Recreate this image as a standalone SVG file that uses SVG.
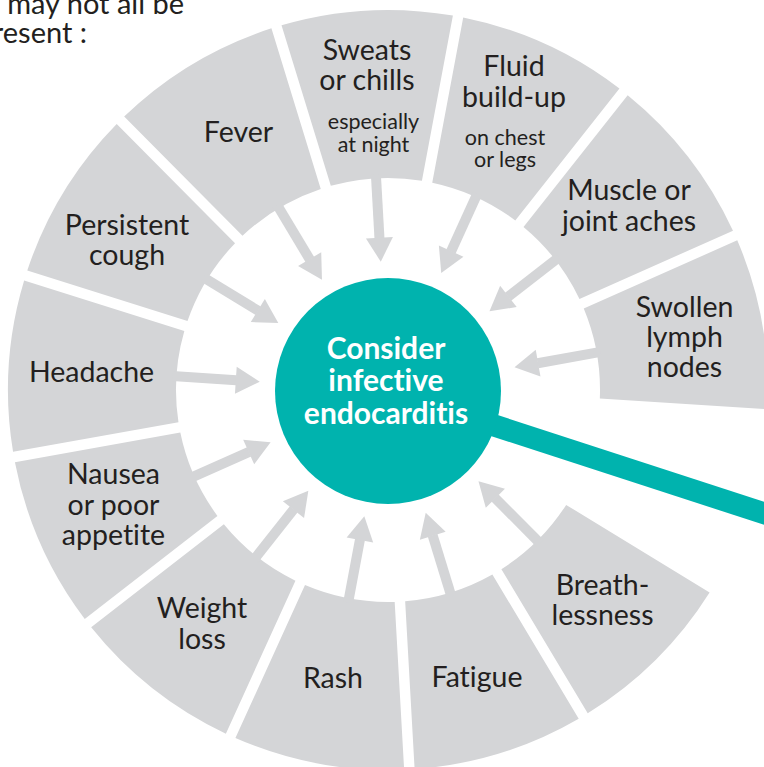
<svg xmlns="http://www.w3.org/2000/svg" xmlns:xlink="http://www.w3.org/1999/xlink" width="764" height="767" viewBox="0 0 764 767">
<style>
text{font-family:Lato,"Open Sans","Liberation Sans",sans-serif;font-variant-ligatures:none;fill:#231F20}
.seg{fill:#D4D5D7}
.lbl{font-size:28.5px;text-anchor:middle}
.sm{font-size:21.5px;text-anchor:middle}
.top{font-size:29px;text-anchor:end}
.ctr{font-size:30px;font-weight:bold;fill:#FFFFFF;text-anchor:middle}
.arr{stroke:#D4D5D7;stroke-width:10;fill:none;marker-end:url(#head)}
</style>
<defs>
<path id="seg" d="M370.18,-85.83 A380,380 0 0 1 370.18,85.83 L207.03,45.62 A212,212 0 0 0 207.03,-45.62 Z"/>
<marker id="head" markerUnits="userSpaceOnUse" markerWidth="24" markerHeight="27" viewBox="0 0 24 27" refX="0.5" refY="13.5" orient="auto" overflow="visible">
<path d="M0,0 L24,13.5 L0,27 Z" fill="#D4D5D7"/>
</marker>
</defs>
<rect width="764" height="767" fill="#FFFFFF"/>
<g id="intro">
<text class="top" x="184" y="14">may not all be</text>
<text class="top" x="87" y="43">present :</text>
</g>
<g id="headache"><use href="#seg" class="seg" transform="translate(388 390) rotate(183.7)"/><text class="lbl" x="91.5" y="382">Headache</text></g>
<g id="cough"><use href="#seg" class="seg" transform="translate(388 390) rotate(211.39)"/><text class="lbl" x="127" y="235">Persistent</text><text class="lbl" x="127" y="265">cough</text></g>
<g id="fever"><use href="#seg" class="seg" transform="translate(388 390) rotate(239.08)"/><text class="lbl" x="238.5" y="142">Fever</text></g>
<g id="sweats"><use href="#seg" class="seg" transform="translate(388 390) rotate(266.78)"/><text class="lbl" x="367" y="60">Sweats</text><text class="lbl" x="367" y="90">or chills</text><text class="sm" x="373.5" y="129">especially</text><text class="sm" x="373.5" y="152">at night</text></g>
<g id="fluid"><use href="#seg" class="seg" transform="translate(388 390) rotate(294.47)"/><text class="lbl" x="514" y="76">Fluid</text><text class="lbl" x="514" y="107">build-up</text><text class="sm" x="505" y="145">on chest</text><text class="sm" x="505" y="167">or legs</text></g>
<g id="muscle"><use href="#seg" class="seg" transform="translate(388 390) rotate(322.16)"/><text class="lbl" x="629" y="200">Muscle or</text><text class="lbl" x="629" y="231">joint aches</text></g>
<g id="lymph"><use href="#seg" class="seg" transform="translate(388 390) rotate(349.85)"/><text class="lbl" x="684.5" y="317">Swollen</text><text class="lbl" x="684.5" y="347">lymph</text><text class="lbl" x="684.5" y="377">nodes</text></g>
<g id="breathlessness"><use href="#seg" class="seg" transform="translate(388 390) rotate(45.24)"/><text class="lbl" x="602.5" y="595">Breath-</text><text class="lbl" x="602.5" y="625">lessness</text></g>
<g id="fatigue"><use href="#seg" class="seg" transform="translate(388 390) rotate(72.93)"/><text class="lbl" x="477" y="687">Fatigue</text></g>
<g id="rash"><use href="#seg" class="seg" transform="translate(388 390) rotate(100.62)"/><text class="lbl" x="333" y="688">Rash</text></g>
<g id="weight"><use href="#seg" class="seg" transform="translate(388 390) rotate(128.31)"/><text class="lbl" x="202" y="618">Weight</text><text class="lbl" x="202" y="649">loss</text></g>
<g id="nausea"><use href="#seg" class="seg" transform="translate(388 390) rotate(156.0)"/><text class="lbl" x="113.5" y="484">Nausea</text><text class="lbl" x="113.5" y="515">or poor</text><text class="lbl" x="113.5" y="545">appetite</text></g>
<g id="connectors">
<line class="arr" x1="216" y1="0" x2="152" y2="0" transform="translate(388 390) rotate(183.7)"/>
<line class="arr" x1="216" y1="0" x2="152" y2="0" transform="translate(388 390) rotate(211.39)"/>
<line class="arr" x1="216" y1="0" x2="152" y2="0" transform="translate(388 390) rotate(239.08)"/>
<line class="arr" x1="216" y1="0" x2="152" y2="0" transform="translate(388 390) rotate(266.78)"/>
<line class="arr" x1="216" y1="0" x2="152" y2="0" transform="translate(388 390) rotate(294.47)"/>
<line class="arr" x1="216" y1="0" x2="152" y2="0" transform="translate(388 390) rotate(322.16)"/>
<line class="arr" x1="216" y1="0" x2="152" y2="0" transform="translate(388 390) rotate(349.85)"/>
<line class="arr" x1="216" y1="0" x2="152" y2="0" transform="translate(388 390) rotate(45.24)"/>
<line class="arr" x1="216" y1="0" x2="152" y2="0" transform="translate(388 390) rotate(72.93)"/>
<line class="arr" x1="216" y1="0" x2="152" y2="0" transform="translate(388 390) rotate(100.62)"/>
<line class="arr" x1="216" y1="0" x2="152" y2="0" transform="translate(388 390) rotate(128.31)"/>
<line class="arr" x1="216" y1="0" x2="152" y2="0" transform="translate(388 390) rotate(156.0)"/>
<line x1="388" y1="391" x2="800" y2="524.9" stroke="#00B3AE" stroke-width="22"/>
</g>
<g id="center">
<circle cx="388" cy="391" r="113" fill="#00B3AE"/>
<text class="ctr" x="386" y="359">Consider</text>
<text class="ctr" x="386" y="391">infective</text>
<text class="ctr" x="386" y="424">endocarditis</text>
</g>
</svg>
